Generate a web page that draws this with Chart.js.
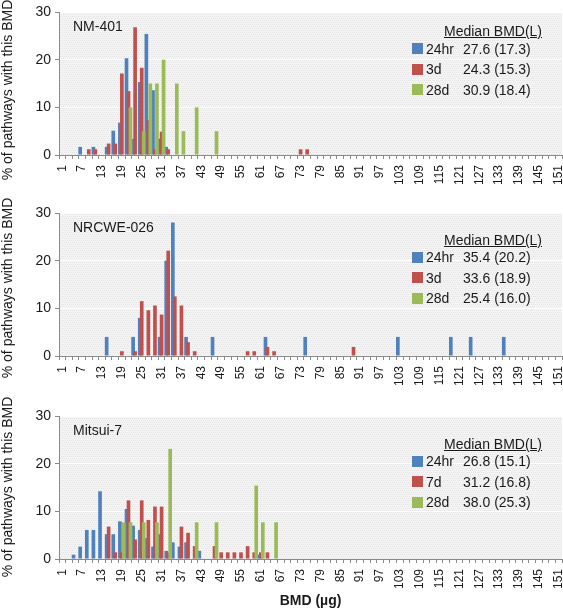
<!DOCTYPE html>
<html lang="en">
<head>
<meta charset="UTF-8">
<title>BMD distributions</title>
<script src="https://cdn.jsdelivr.net/npm/chart.js"></script>
<style>
  body { margin: 0; background: #fff; font-family: "Liberation Sans", Arial, sans-serif; color: #1a1a1a; }
  .page { position: relative; width: 563px; height: 610px; overflow: hidden; }
  .page canvas { position: absolute; left: 0; }
  .name { position: absolute; left: 73px; font-size: 14px; line-height: 14px; white-space: nowrap; }
  .ytitle { position: absolute; width: 220px; height: 16px; left: -103px; font-size: 14px; line-height: 16px;
            text-align: center; white-space: nowrap; transform: rotate(-90deg); }
  .legend { position: absolute; left: 411px; width: 150px; font-size: 14px; line-height: 14px; }
  .legend div { position: absolute; white-space: nowrap; }
  .legend .head { left: 33px; top: 0; text-decoration: underline; }
  .legend .sw { left: 1px; width: 11px; height: 11px; }
  .legend .lab { left: 15px; }
  .legend .val { left: 52px; }
</style>
</head>
<body>
<div class="page" id="page"></div>

<script>
// BMD bins on the category axis (every 2 µg), labels shown every 6 µg
const bmdBins = [1,3,5,7,9,11,13,15,17,19,21,23,25,27,29,31,33,35,37,39,41,43,45,47,49,51,53,55,57,59,61,63,65,67,69,71,73,75,
                 77,79,81,83,85,87,89,91,93,95,97,99,101,103,105,107,109,111,113,115,117,119,121,123,125,127,129,131,133,135,137,139,141,143,145,147,149,151];
const tickLabels = [1,7,13,19,25,31,37,43,49,55,61,67,73,79,85,91,97,103,109,115,121,127,133,139,145,151];
const seriesColors = ['#4F81BD', '#C0504D', '#9BBB59'];

// NM-401  ([BMD bin, % of pathways])
const nm401Labels  = ['24hr', '3d', '28d'];
const nm401Medians = ['27.6 (17.3)', '24.3 (15.3)', '30.9 (18.4)'];
const nm401_24hr = [[7,1.7],[11,1.7],[15,1.7],[17,5.1],[19,6.8],[21,20.3],[23,3.4],[25,15.3],[27,25.4],[29,13.6],[31,3.4],[33,1.7]];
const nm401_3d   = [[9,1.2],[11,1.2],[15,2.4],[17,2.4],[19,17.1],[21,13.4],[23,26.8],[25,18.3],[27,7.3],[29,1.2],[31,4.9],[33,1.2],[73,1.2],[75,1.2]];
const nm401_28d  = [[21,10],[25,5],[27,15],[29,15],[31,20],[35,15],[37,5],[41,10],[47,5]];

// NRCWE-026
const nrcweLabels  = ['24hr', '3d', '28d'];
const nrcweMedians = ['35.4 (20.2)', '33.6 (18.9)', '25.4 (16.0)'];
const nrcwe_24hr = [[15,4],[23,4],[25,8],[31,4],[33,20],[35,28],[39,4],[47,4],[63,4],[75,4],[103,4],[119,4],[125,4],[135,4]];
const nrcwe_3d   = [[19,1],[23,1],[25,11.5],[27,9.6],[29,10.6],[31,8.7],[33,22.1],[35,12.5],[37,10.6],[39,2.9],[41,1],[57,1],[59,1],[63,1.9],[65,1],[89,1.9]];
const nrcwe_28d  = [];

// Mitsui-7
const mitsuiLabels  = ['24hr', '7d', '28d'];
const mitsuiMedians = ['26.8 (15.1)', '31.2 (16.8)', '38.0 (25.3)'];
const mitsui_24hr = [[5,0.9],[7,2.6],[9,6.1],[11,6.1],[13,14.2],[15,5.2],[17,5.2],[19,7.9],[21,10.5],[23,7.0],[25,6.1],[27,4.4],[29,2.6],[31,5.2],[33,1.7],[35,3.5],[37,2.6],[39,3.5],[43,1.7],[61,0.9]];
const mitsui_7d   = [[15,6.8],[17,1.4],[19,1.4],[21,12.3],[23,4.1],[25,12.3],[27,8.2],[29,11.0],[31,11.0],[33,1.4],[37,6.8],[39,5.5],[41,2.7],[47,2.7],[49,1.4],[51,1.4],[53,1.4],[55,1.4],[57,2.7],[59,1.4],[61,1.4],[63,1.4]];
const mitsui_28d  = [[19,7.7],[21,7.7],[25,7.7],[29,7.7],[33,23.1],[41,7.7],[47,7.7],[59,15.4],[61,7.7],[65,7.7]];

const panels = [
  { name: 'NM-401',    labels: nm401Labels,  medians: nm401Medians,  series: [nm401_24hr, nm401_3d, nm401_28d],
    top: 0,   height: 190, padTop: 12, xHeight: 35, xTitle: false, nameTop: 19,    legendTop: 24,    yTitleMid: 90 },
  { name: 'NRCWE-026', labels: nrcweLabels,  medians: nrcweMedians,  series: [nrcwe_24hr, nrcwe_3d, nrcwe_28d],
    top: 190, height: 200, padTop: 23, xHeight: 34, xTitle: false, nameTop: 219.5, legendTop: 232.5, yTitleMid: 288 },
  { name: 'Mitsui-7',  labels: mitsuiLabels, medians: mitsuiMedians, series: [mitsui_24hr, mitsui_7d, mitsui_28d],
    top: 390, height: 220, padTop: 26, xHeight: 51, xTitle: true,  nameTop: 423,   legendTop: 436.5, yTitleMid: 487 }
];

const FONT = '"Liberation Sans", Arial, sans-serif';
const AXIS_GREY = '#8a8a8a';
const TEXT = '#1a1a1a';

function toBins(pairs) {
  const lookup = new Map(pairs);
  return bmdBins.map(b => lookup.has(b) ? lookup.get(b) : null);
}

// speckled grey plot background like the original
let texture = null;
function getTexture(ctx) {
  if (texture) return texture;
  const c = document.createElement('canvas');
  c.width = 4; c.height = 4;
  const g = c.getContext('2d');
  g.fillStyle = '#f4f4f4';
  g.fillRect(0, 0, 4, 4);
  g.fillStyle = '#e4e4e4';
  for (let i = 0; i < 4; i++) g.fillRect(i, (i * 2) % 4, 1, 1);
  texture = ctx.createPattern(c, 'repeat');
  return texture;
}

const plotBackground = {
  id: 'plotBackground',
  beforeDraw(chart) {
    const { ctx, chartArea: a } = chart;
    ctx.save();
    ctx.fillStyle = getTexture(ctx);
    ctx.fillRect(a.left, a.top, a.width, a.height);
    ctx.restore();
  }
};

// later series painted over earlier ones (as in the original)
const paintInOrder = {
  id: 'paintInOrder',
  beforeDatasetsDraw(chart) {
    const { ctx, chartArea: a } = chart;
    ctx.save();
    ctx.beginPath();
    ctx.rect(a.left, a.top, a.width, a.height);
    ctx.clip();
    chart.getSortedVisibleDatasetMetas().forEach(m => m.controller.draw());
    ctx.restore();
    return false;
  }
};

const page = document.getElementById('page');

panels.forEach(p => {
  const canvas = document.createElement('canvas');
  canvas.width = 563;
  canvas.height = p.height;
  canvas.style.top = p.top + 'px';
  page.appendChild(canvas);

  const yTitle = document.createElement('div');
  yTitle.className = 'ytitle';
  yTitle.style.top = (p.yTitleMid - 8) + 'px';
  yTitle.textContent = '% of pathways with this BMD';
  page.appendChild(yTitle);

  const name = document.createElement('div');
  name.className = 'name';
  name.style.top = p.nameTop + 'px';
  name.textContent = p.name;
  page.appendChild(name);

  const legend = document.createElement('div');
  legend.className = 'legend';
  legend.style.top = p.legendTop + 'px';
  let html = '<div class="head">Median BMD(L)</div>';
  const rowTops = [17.5, 38, 58.5];
  p.labels.forEach((lab, i) => {
    const t = rowTops[i];
    html += `<div class="sw" style="top:${t + 1.5}px;background:${seriesColors[i]}"></div>` +
            `<div class="lab" style="top:${t}px">${lab}</div>` +
            `<div class="val" style="top:${t}px">${p.medians[i]}</div>`;
  });
  legend.innerHTML = html;
  page.appendChild(legend);

  new Chart(canvas, {
    type: 'bar',
    data: {
      labels: bmdBins,
      datasets: p.series.map((s, i) => ({
        label: p.labels[i],
        data: toBins(s),
        backgroundColor: seriesColors[i],
        borderWidth: 0,
        categoryPercentage: 0.9,
        barPercentage: 1.85
      }))
    },
    options: {
      responsive: false,
      animation: false,
      devicePixelRatio: 1,
      layout: { padding: { top: p.padTop, right: 1, bottom: 0, left: 0 } },
      plugins: { legend: { display: false }, tooltip: { enabled: false } },
      scales: {
        x: {
          offset: true,
          grid: { offset: true, drawOnChartArea: false, drawTicks: true, tickLength: 4, tickColor: AXIS_GREY },
          border: { color: AXIS_GREY },
          ticks: {
            autoSkip: false, minRotation: 90, maxRotation: 90, padding: 6, color: TEXT,
            font: { family: FONT, size: 12 },
            callback: (v, i) => tickLabels.includes(bmdBins[i]) ? String(bmdBins[i]) : ''
          },
          title: { display: p.xTitle, text: 'BMD (µg)', color: TEXT, padding: 0,
                   font: { family: FONT, size: 14, weight: 'bold' } },
          afterFit: s => { s.height = p.xHeight; s.paddingLeft = 0; s.paddingRight = 0; }
        },
        y: {
          min: 0, max: 30,
          ticks: { stepSize: 10, padding: 4, color: TEXT, font: { family: FONT, size: 14 } },
          grid: {
            color: c => c.tick && c.tick.value === 0 ? 'rgba(0,0,0,0)' : '#ffffff',
            tickColor: AXIS_GREY, tickLength: 4, lineWidth: 1
          },
          border: { color: AXIS_GREY },
          afterFit: s => { s.width = 59; s.paddingTop = 0; s.paddingBottom = 0; }
        }
      }
    },
    plugins: [plotBackground, paintInOrder]
  });
});
</script>
</body>
</html>
